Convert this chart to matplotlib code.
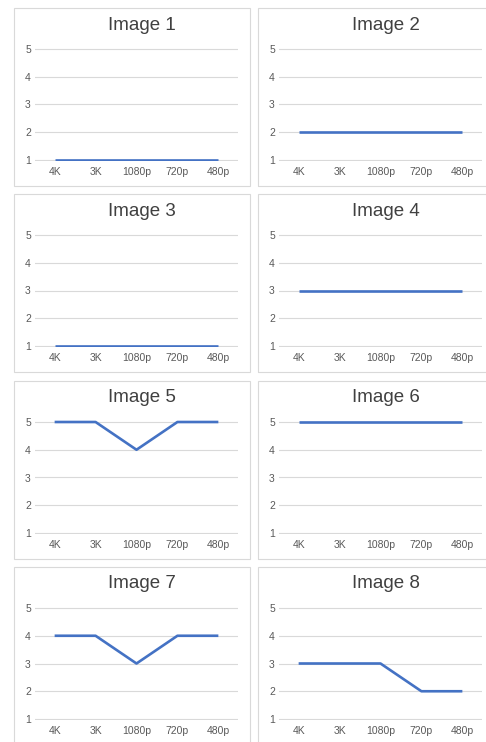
import matplotlib
matplotlib.use("Agg")
import matplotlib.pyplot as plt
from matplotlib.patches import Rectangle

plt.rcParams['font.family'] = ['Liberation Sans', 'DejaVu Sans']

resolutions = ["4K", "3K", "1080p", "720p", "480p"]
titles = ["Image 1", "Image 2", "Image 3", "Image 4",
          "Image 5", "Image 6", "Image 7", "Image 8"]
image1 = [1, 1, 1, 1, 1]
image2 = [2, 2, 2, 2, 2]
image3 = [1, 1, 1, 1, 1]
image4 = [3, 3, 3, 3, 3]
image5 = [5, 5, 4, 5, 5]
image6 = [5, 5, 5, 5, 5]
image7 = [4, 4, 3, 4, 4]
image8 = [3, 3, 3, 2, 2]
scores = [image1, image2, image3, image4, image5, image6, image7, image8]

W, H = 486, 742
fig = plt.figure(figsize=(W / 100, H / 100), dpi=100)

col_x = [14, 258]
row_y = [8, 194, 381, 567]
box_w, box_h = 236, 178
ymin, ymax = 0.965, 5.15
unit = 27.75  # pixels per score step

for i, (title, vals) in enumerate(zip(titles, scores)):
    x0 = col_x[i % 2]
    y0 = row_y[i // 2]

    # light frame around each small chart
    fig.patches.append(Rectangle((x0 / W, 1 - (y0 + box_h) / H), box_w / W, box_h / H,
                                 transform=fig.transFigure, fill=False,
                                 edgecolor="#d9d9d9", linewidth=0.8))

    top = y0 + 41 - (ymax - 5) * unit
    bottom = y0 + 152 + (1 - ymin) * unit
    ax = fig.add_axes([(x0 + 21) / W, 1 - bottom / H, 203 / W, (bottom - top) / H])
    ax.plot(range(len(resolutions)), vals, color="#4472C4", linewidth=1.9,
            solid_capstyle="butt", zorder=3)
    ax.set_xlim(-0.48, 4.48)
    ax.set_ylim(ymin, ymax)
    ax.set_yticks([1, 2, 3, 4, 5])
    ax.set_xticks(range(len(resolutions)))
    ax.set_xticklabels(resolutions)
    ax.grid(axis="y", color="#d9d9d9", linewidth=0.8, zorder=0)
    ax.set_axisbelow(True)
    for s in ax.spines.values():
        s.set_visible(False)
    ax.tick_params(length=0, labelsize=7.5, colors="#595959")
    ax.tick_params(axis="y", pad=3)
    ax.tick_params(axis="x", pad=4)

    fig.text((x0 + box_w / 2 + 10) / W, 1 - (y0 + 17) / H, title,
             ha="center", va="center", fontsize=13.5, color="#404040")

fig.savefig("out.png", dpi=100)
